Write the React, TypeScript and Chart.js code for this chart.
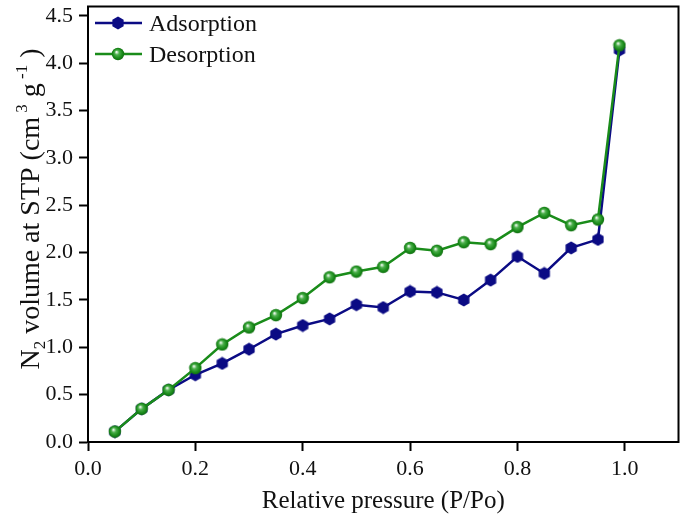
import React, { useEffect, useRef } from "react";
import { Chart, registerables } from "chart.js";

Chart.register(...registerables);

const pressure = [0.05, 0.1, 0.15, 0.2, 0.25, 0.3, 0.35, 0.4, 0.45, 0.5, 0.55, 0.6, 0.65, 0.7, 0.75, 0.8, 0.85, 0.9, 0.95, 0.99];
const adsorption = [0.11, 0.35, 0.55, 0.71, 0.83, 0.98, 1.14, 1.23, 1.30, 1.45, 1.42, 1.59, 1.58, 1.50, 1.71, 1.96, 1.78, 2.05, 2.14, 4.14];
const desorption = [0.11, 0.35, 0.55, 0.78, 1.03, 1.21, 1.34, 1.52, 1.74, 1.80, 1.85, 2.05, 2.02, 2.11, 2.09, 2.27, 2.42, 2.29, 2.35, 4.19];
const seriesLabels = ["Adsorption", "Desorption"];
const xTitle = "Relative pressure (P/Po)";

const BLUE = "#0b0b84";
const GREEN = "#1a8c1a";
const FONT = "'Liberation Serif', 'Times New Roman', serif";

function makeHexagon(): HTMLCanvasElement {
  const c = document.createElement("canvas");
  c.width = 14;
  c.height = 14;
  const ctx = c.getContext("2d")!;
  ctx.beginPath();
  for (let i = 0; i < 6; i++) {
    const a = Math.PI / 2 + (i * Math.PI) / 3;
    const px = 7 + 6.5 * Math.cos(a);
    const py = 7 + 6.5 * Math.sin(a);
    if (i === 0) ctx.moveTo(px, py);
    else ctx.lineTo(px, py);
  }
  ctx.closePath();
  ctx.fillStyle = BLUE;
  ctx.fill();
  return c;
}

function makeSphere(): HTMLCanvasElement {
  const c = document.createElement("canvas");
  c.width = 14;
  c.height = 14;
  const ctx = c.getContext("2d")!;
  const g = ctx.createRadialGradient(5.5, 5, 0.5, 7, 7, 6.5);
  g.addColorStop(0, "#e6f5e6");
  g.addColorStop(0.3, "#4caf4c");
  g.addColorStop(0.7, "#1a8c1a");
  g.addColorStop(1, "#0f6a0f");
  ctx.beginPath();
  ctx.arc(7, 7, 6.2, 0, Math.PI * 2);
  ctx.fillStyle = g;
  ctx.fill();
  return c;
}

export default function App() {
  const ref = useRef<HTMLCanvasElement | null>(null);

  useEffect(() => {
    document.body.style.margin = "0";
    const hex = makeHexagon();
    const sph = makeSphere();
    const markers = [hex, sph];
    const colors = [BLUE, GREEN];

    const framePlugin = {
      id: "framePlugin",
      afterDraw(chart: any) {
        const { ctx, chartArea } = chart;
        const { left, right, top, bottom } = chartArea;
        ctx.save();
        ctx.strokeStyle = "#000";
        ctx.lineWidth = 2;
        ctx.strokeRect(left, top, right - left, bottom - top);

        // legend
        const rows = [top + 16.5, top + 47.5];
        rows.forEach((y, i) => {
          ctx.strokeStyle = colors[i];
          ctx.lineWidth = 2.5;
          ctx.beginPath();
          ctx.moveTo(left + 7, y);
          ctx.lineTo(left + 54, y);
          ctx.stroke();
          ctx.drawImage(markers[i], left + 30 - 7, y - 7);
          ctx.fillStyle = "#111";
          ctx.font = `24px ${FONT}`;
          ctx.textBaseline = "alphabetic";
          ctx.textAlign = "left";
          ctx.fillText(seriesLabels[i], left + 61, y + 8);
        });

        // x title
        ctx.fillStyle = "#111";
        ctx.font = `25px ${FONT}`;
        ctx.textAlign = "center";
        ctx.textBaseline = "alphabetic";
        ctx.fillText(xTitle, (left + right) / 2, bottom + 66);

        // y title with sub/superscripts
        const parts: [string, number, number][] = [
          ["N", 28, 0],
          ["2", 17, 6],
          [" volume at STP (cm", 28, 0],
          [" 3", 17, -12],
          [" g", 28, 0],
          [" -1", 17, -12],
          [" )", 28, 0],
        ];
        let total = 0;
        parts.forEach(([t, s]) => {
          ctx.font = `${s}px ${FONT}`;
          total += ctx.measureText(t).width;
        });
        ctx.save();
        ctx.translate(39, 209);
        ctx.rotate(-Math.PI / 2);
        ctx.textAlign = "left";
        let xpos = -total / 2;
        parts.forEach(([t, s, dy]) => {
          ctx.font = `${s}px ${FONT}`;
          ctx.fillText(t, xpos, dy);
          xpos += ctx.measureText(t).width;
        });
        ctx.restore();
        ctx.restore();
      },
    };

    const toPoints = (ys: number[]) => pressure.map((x, i) => ({ x, y: ys[i] }));

    const chart = new Chart(ref.current!, {
      type: "scatter",
      data: {
        datasets: [
          {
            label: seriesLabels[0],
            data: toPoints(adsorption),
            showLine: true,
            borderColor: BLUE,
            backgroundColor: BLUE,
            borderWidth: 2.5,
            pointStyle: hex as any,
            order: 1,
          },
          {
            label: seriesLabels[1],
            data: toPoints(desorption),
            showLine: true,
            borderColor: GREEN,
            backgroundColor: GREEN,
            borderWidth: 2.5,
            pointStyle: sph as any,
            order: 0,
          },
        ],
      },
      options: {
        animation: false,
        responsive: false,
        layout: { padding: { left: 0, top: 3, right: 3, bottom: 0 } },
        plugins: {
          legend: { display: false },
          tooltip: { enabled: false },
        },
        scales: {
          x: {
            type: "linear",
            min: 0,
            max: 1.1,
            afterFit: (axis: any) => {
              axis.height = 73;
              axis.paddingLeft = 0;
              axis.paddingRight = 0;
            },
            ticks: {
              stepSize: 0.2,
              includeBounds: false,
              color: "#111",
              font: { family: FONT, size: 22 },
              padding: 5,
              maxRotation: 0,
              callback: (v: any) => Number(v).toFixed(1),
            },
            grid: {
              display: true,
              drawOnChartArea: false,
              drawTicks: true,
              tickLength: 9,
              tickColor: "#000",
              tickWidth: 2,
            },
            border: { display: true, color: "#000", width: 2 },
          },
          y: {
            type: "linear",
            min: 0,
            max: 4.6,
            afterFit: (axis: any) => {
              axis.width = 88;
              axis.paddingTop = 0;
              axis.paddingBottom = 0;
            },
            ticks: {
              stepSize: 0.5,
              includeBounds: false,
              color: "#111",
              font: { family: FONT, size: 22 },
              padding: 6,
              callback: (v: any) => Number(v).toFixed(1),
            },
            grid: {
              display: true,
              drawOnChartArea: false,
              drawTicks: true,
              tickLength: 9,
              tickColor: "#000",
              tickWidth: 2,
            },
            border: { display: true, color: "#000", width: 2 },
          },
        },
      },
      plugins: [framePlugin],
    });
    return () => chart.destroy();
  }, []);

  return (
    <div style={{ width: 685, height: 515 }}>
      <canvas ref={ref} width={685} height={515} style={{ display: "block" }} />
    </div>
  );
}
